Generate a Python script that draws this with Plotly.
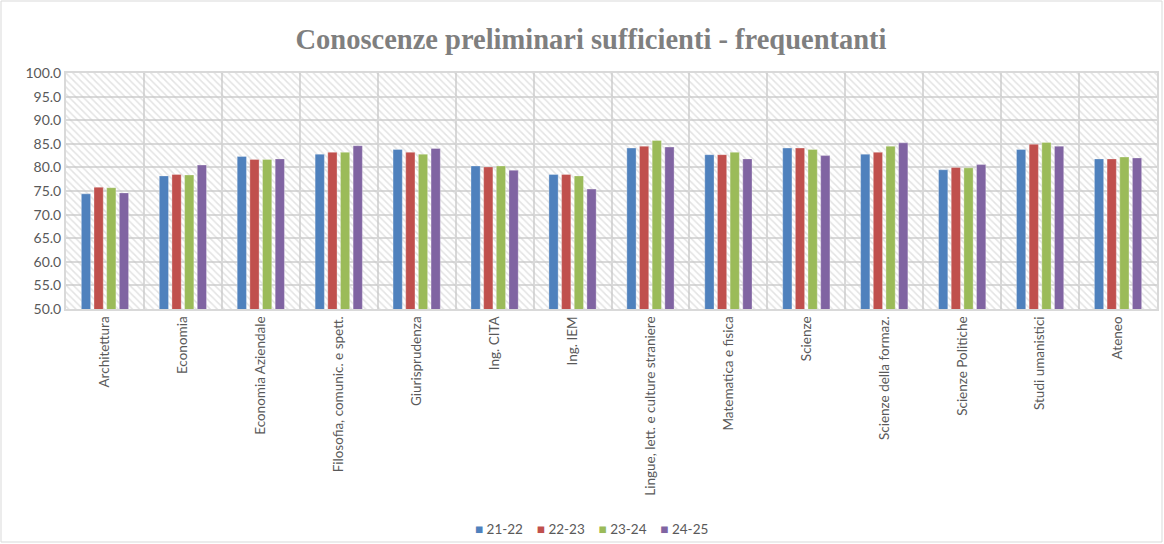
import plotly.graph_objects as go

categories = ["Architettura", "Economia", "Economia Aziendale", "Filosofia, comunic. e spett.",
              "Giurisprudenza", "Ing. CITA", "Ing. IEM", "Lingue, lett. e culture straniere",
              "Matematica e fisica", "Scienze", "Scienze della formaz.", "Scienze Politiche",
              "Studi umanistici", "Ateneo"]
s2122 = [74.4, 78.2, 82.3, 82.8, 83.8, 80.3, 78.5, 84.1, 82.7, 84.1, 82.8, 79.5, 83.8, 81.8]
s2223 = [75.8, 78.5, 81.7, 83.2, 83.2, 80.1, 78.5, 84.5, 82.7, 84.1, 83.2, 80.0, 84.9, 81.8]
s2324 = [75.7, 78.4, 81.7, 83.2, 82.8, 80.3, 78.2, 85.7, 83.2, 83.8, 84.5, 79.9, 85.3, 82.2]
s2425 = [74.6, 80.5, 81.8, 84.6, 84.0, 79.4, 75.4, 84.3, 81.8, 82.5, 85.2, 80.6, 84.5, 82.0]
series_names = ["21-22", "22-23", "23-24", "24-25"]
colors = ["#4F81BD", "#C0504D", "#9BBB59", "#8064A2"]

W, H = 1164, 544
ml, mr, mt, mb = 66, 7, 73, 235
font_sans = "Lato, Carlito, Liberation Sans, Arial, sans-serif"

fig = go.Figure()

# hatched background of the plot area (decoration on the base axes, drawn under the overlay)
fig.add_trace(go.Scatter(
    x=[0, 1, 1, 0, 0], y=[0, 0, 1, 1, 0], xaxis="x", yaxis="y",
    mode="none", fill="toself", fillcolor="rgba(0,0,0,0)",
    fillpattern=dict(shape="\\", fgcolor="#c8c8c8", bgcolor="rgba(0,0,0,0)", size=5, solidity=0.3),
    showlegend=False, hoverinfo="skip"))

for name, vals, col in zip(series_names, [s2122, s2223, s2324, s2425], colors):
    fig.add_trace(go.Bar(x=categories, y=vals, name=name, xaxis="x2", yaxis="y2", showlegend=False,
                         marker=dict(color=col, line=dict(color="rgba(255,255,255,0.6)", width=0.5))))

grid = "#d9d9d9"
ph = H - mt - mb
pw = W - ml - mr

# legend drawn as one centered text line built from the series names/colours
legend_text = "&nbsp;&nbsp;&nbsp;&nbsp;".join(
    f"<span style='color:{c}'>■</span>&nbsp;{n}" for n, c in zip(series_names, colors))
fig.add_annotation(text=legend_text, xref="paper", yref="paper", x=(591 - ml) / pw,
                   y=-(529 - (H - mb)) / ph, xanchor="center", yanchor="middle", showarrow=False,
                   font=dict(family=font_sans, size=13.5, color="#595959"))

fig.update_layout(
    width=W, height=H,
    margin=dict(l=ml, r=mr, t=mt, b=mb, autoexpand=False),
    paper_bgcolor="white", plot_bgcolor="white",
    barmode="group", bargap=0.35, bargroupgap=0.27,
    showlegend=False,
    title=dict(text="<b>Conoscenze preliminari sufficienti - frequentanti</b>",
               x=591 / W, xanchor="center", y=1 - 39 / H, yanchor="middle",
               font=dict(family="Liberation Serif, DejaVu Serif, serif", size=28.5, color="#7f7f7f")),
    xaxis=dict(range=[0, 1], visible=False, fixedrange=True, showgrid=False, zeroline=False),
    yaxis=dict(range=[0, 1], visible=False, fixedrange=True, showgrid=False, zeroline=False),
    xaxis2=dict(type="category", overlaying="x", anchor="y2", side="bottom",
                tickson="boundaries", showgrid=True, gridcolor=grid, gridwidth=2,
                tickangle=-90, ticks="", showline=True, linecolor=grid, linewidth=2, mirror=True,
                automargin=False,
                tickfont=dict(family=font_sans, size=13.5, color="#595959")),
    yaxis2=dict(overlaying="y", anchor="x2", side="left",
                range=[50, 100], dtick=5, tick0=50, tickformat=".1f", showgrid=True,
                gridcolor=grid, gridwidth=2, showline=True, linecolor=grid, linewidth=2, mirror=True,
                ticks="", zeroline=False, automargin=False,
                tickfont=dict(family=font_sans, size=14, color="#595959")),
)

# outer chart border
fig.add_shape(type="rect", xref="paper", yref="paper",
              x0=(1 - ml) / pw, x1=(W - 2 - ml) / pw,
              y0=-(H - 2 - (H - mb)) / ph, y1=1 + (mt - 1) / ph,
              line=dict(color="#d9d9d9", width=1), fillcolor="rgba(0,0,0,0)", layer="below")

fig.write_html("out.html", config={"displayModeBar": False},
               post_script="document.body.style.margin='0';")
